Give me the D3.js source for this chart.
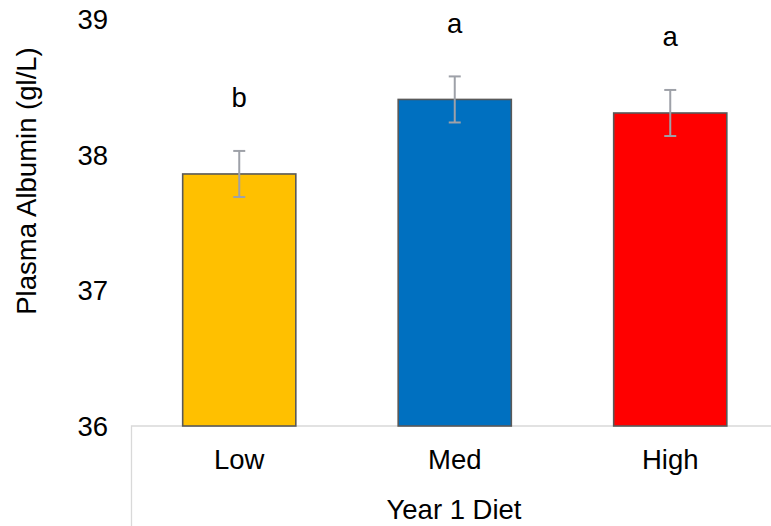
<!DOCTYPE html>
<html>
<head>
<meta charset="utf-8">
<script src="https://cdn.jsdelivr.net/npm/d3@7"></script>
<style>
  html, body { margin: 0; padding: 0; background: #ffffff; }
  svg { display: block; font-family: "Liberation Sans", Arial, sans-serif; }
</style>
</head>
<body>
<svg id="chart" width="771" height="526"></svg>
<script>
// Plasma albumin by Year 1 diet group
const categories = ["Low", "Med", "High"];
const means = [37.86, 38.41, 38.31];
const errors = [0.17, 0.17, 0.17];
const letters = ["b", "a", "a"];
const colors = ["#FFC000", "#0070C0", "#FF0000"];
const yTicks = [36, 37, 38, 39];

const FONT = 27.5;
const svg = d3.select("#chart");

const x = d3.scaleBand()
  .domain(categories)
  .range([131.5, 778])
  .paddingInner(0.475)
  .paddingOuter(0.2375);

const y = d3.scaleLinear()
  .domain([36, 39])
  .range([426, 19.5]);

// category-axis frame (light grey box under the plot)
svg.append("path")
  .attr("d", `M${x.range()[0]},${527} V${y(36)} H${772}`)
  .attr("fill", "none")
  .attr("stroke", "#D9D9D9")
  .attr("stroke-width", 1.3);

// bars
svg.append("g").selectAll("rect")
  .data(categories)
  .join("rect")
  .attr("x", d => x(d))
  .attr("width", x.bandwidth())
  .attr("y", (d, i) => y(means[i]))
  .attr("height", (d, i) => y(36) - y(means[i]))
  .attr("fill", (d, i) => colors[i])
  .attr("stroke", "#595959")
  .attr("stroke-width", 1.6);

// error bars
const eb = svg.append("g")
  .attr("stroke", "#9EA1A8")
  .attr("stroke-width", 2)
  .attr("fill", "none");
categories.forEach((c, i) => {
  const cx = x(c) + x.bandwidth() / 2;
  const top = y(means[i] + errors[i]);
  const bot = y(means[i] - errors[i]);
  eb.append("line").attr("x1", cx).attr("x2", cx).attr("y1", top).attr("y2", bot);
  eb.append("line").attr("x1", cx - 6).attr("x2", cx + 6).attr("y1", top).attr("y2", top);
  eb.append("line").attr("x1", cx - 6).attr("x2", cx + 6).attr("y1", bot).attr("y2", bot);
});

// significance letters
svg.append("g").selectAll("text")
  .data(categories)
  .join("text")
  .attr("x", d => x(d) + x.bandwidth() / 2)
  .attr("y", (d, i) => y(means[i] + errors[i]) - 43.5)
  .attr("text-anchor", "middle")
  .attr("font-size", FONT)
  .attr("fill", "#000")
  .text((d, i) => letters[i]);

// y tick labels
svg.append("g").selectAll("text")
  .data(yTicks)
  .join("text")
  .attr("x", 108)
  .attr("y", d => y(d))
  .attr("dy", "0.35em")
  .attr("text-anchor", "end")
  .attr("font-size", FONT)
  .attr("fill", "#000")
  .text(d => d);

// category labels
svg.append("g").selectAll("text")
  .data(categories)
  .join("text")
  .attr("x", d => x(d) + x.bandwidth() / 2)
  .attr("y", 469)
  .attr("text-anchor", "middle")
  .attr("font-size", FONT)
  .attr("fill", "#000")
  .text(d => d);

// axis titles
svg.append("text")
  .attr("x", 454)
  .attr("y", 519)
  .attr("text-anchor", "middle")
  .attr("font-size", FONT)
  .attr("fill", "#000")
  .text("Year 1 Diet");

svg.append("text")
  .attr("transform", `translate(36,181) rotate(-90)`)
  .attr("text-anchor", "middle")
  .attr("font-size", FONT)
  .attr("fill", "#000")
  .text("Plasma Albumin (gl/L)");
</script>
</body>
</html>
